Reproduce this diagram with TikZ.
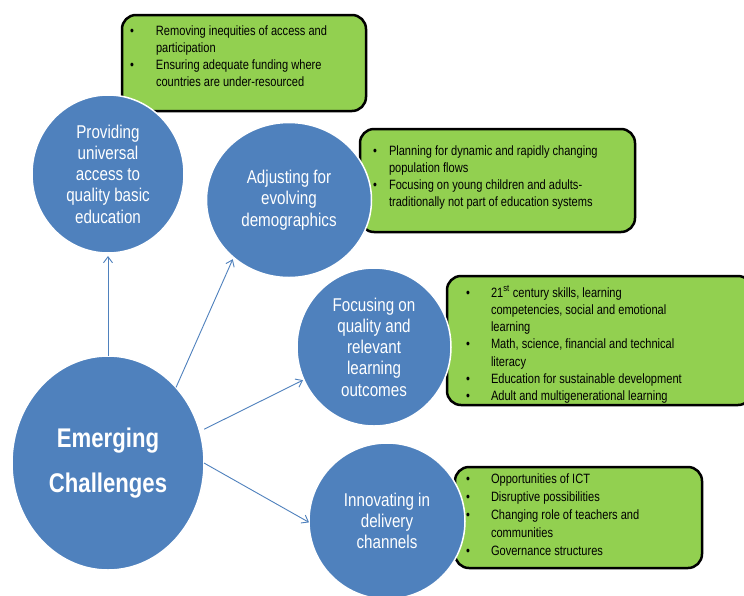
\documentclass[tikz,border=0pt]{standalone}
\usepackage{fontspec}
\setmainfont{Liberation Sans}
\newfontfamily\nfont[FakeStretch=0.82]{Liberation Sans}
\usetikzlibrary{arrows.meta,shapes.geometric}
\definecolor{cblue}{HTML}{4F81BD}
\definecolor{cgreen}{HTML}{92D050}
\tikzset{
  bubble/.style={ellipse, fill=cblue, draw=white, line width=1.5pt, inner sep=0pt, outer sep=0pt,
    text=white, align=center, font=\nfont\fontsize{18.5}{21.3}\selectfont},
  hub/.style={bubble, font=\nfont\bfseries\fontsize{27}{45}\selectfont},
  infobox/.style={rectangle, rounded corners=14pt, fill=cgreen, draw=black, line width=2.5pt, inner sep=0pt},
  infotext/.style={anchor=base west, inner sep=0pt, outer sep=0pt, text=black,
    font=\nfont\fontsize{13.5}{17.3}\selectfont},
  link/.style={draw=cblue, line width=0.9pt, -{Straight Barb[length=6pt,width=9pt]}},
}
\begin{document}
\begin{tikzpicture}[x=1pt,y=-1pt]
\clip (0,0) rectangle (744,595);
\fill[white] (0,0) rectangle (744,595);
% green boxes
\node[infobox, minimum width=244pt, minimum height=96pt] (b1) at (244,63) {};
\node[infobox, minimum width=275pt, minimum height=103pt] (b2) at (497.5,180.5) {};
\node[infobox, minimum width=305pt, minimum height=129pt] (b3) at (599.5,340.5) {};
\node[infobox, minimum width=247pt, minimum height=101pt] (b4) at (578.5,517.5) {};
% box texts
\node[infotext] (t1) at (130,35) {\begin{tabular}[t]{@{}p{26pt}@{}l@{}}
\textbullet & Removing inequities of access and\\
 & participation\\
\textbullet & Ensuring adequate funding where\\
 & countries are under-resourced
\end{tabular}};
\node[infotext] (t2) at (373,155) {\begin{tabular}[t]{@{}p{16pt}@{}l@{}}
\textbullet & Planning for dynamic and rapidly changing\\
 & population flows\\
\textbullet & Focusing on young children and adults-\\
 & traditionally not part of education systems
\end{tabular}};
\node[infotext] (t3) at (466,297) {\begin{tabular}[t]{@{}p{25pt}@{}l@{}}
\textbullet & 21\textsuperscript{st} century skills, learning\\
 & competencies, social and emotional\\
 & learning\\
\textbullet & Math, science, financial and technical\\
 & literacy\\
\textbullet & Education for sustainable development\\
\textbullet & Adult and multigenerational learning
\end{tabular}};
\node[infotext, font=\nfont\fontsize{13.5}{18}\selectfont] (t4) at (466,483) {\begin{tabular}[t]{@{}p{25pt}@{}l@{}}
\textbullet & Opportunities of ICT\\
\textbullet & Disruptive possibilities\\
\textbullet & Changing role of teachers and\\
 & communities\\
\textbullet & Governance structures
\end{tabular}};
% circles
\node[hub, minimum width=192pt, minimum height=214pt] (em) at (108,463) {Emerging\\Challenges};
\node[bubble, minimum width=152pt, minimum height=158pt] (c1) at (108,174) {Providing\\universal\\access to\\quality basic\\education};
\node[bubble, minimum width=165pt, minimum height=155pt] (c2) at (289,200) {Adjusting for\\evolving\\demographics};
\node[bubble, minimum width=154pt, minimum height=158pt] (c3) at (374,347) {Focusing on\\quality and\\relevant\\learning\\outcomes};
\node[bubble, minimum width=156pt, minimum height=156pt] (c4) at (387,521) {Innovating in\\delivery\\channels};
% connectors
\draw[link, shorten >=3pt] (em.north) -- (c1.south);
\draw[link, shorten >=2pt] (em.48) -- (c2.226);
\draw[link, shorten <=5pt, shorten >=1pt] (em.19) -- (c3.205);
\draw[link] (em.east) -- (c4.181);
\end{tikzpicture}
\end{document}
